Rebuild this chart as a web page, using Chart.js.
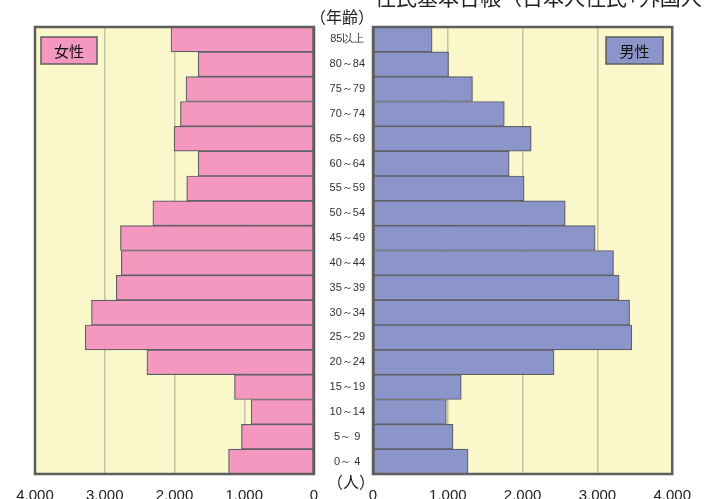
<!DOCTYPE html>
<html>
<head>
<meta charset="utf-8">
<script src="https://cdn.jsdelivr.net/npm/chart.js@4.4.0/dist/chart.umd.min.js"></script>
<style>
  body { margin: 0; background: #fff; }
  #wrap { position: relative; width: 704px; height: 499px; overflow: hidden; }
  canvas { position: absolute; top: 0; }
  .txt { position: absolute; font-family: "Noto Sans CJK JP", sans-serif; color: #222; line-height: 1; white-space: nowrap; }
</style>
</head>
<body>
<div id="wrap">
  <canvas id="femaleChart" width="320" height="499" style="left:0"></canvas>
  <canvas id="maleChart" width="390" height="499" style="left:314px"></canvas>
  <div class="txt" style="left:375px; top:-14px; font-size:21px;">住民基本台帳（日本人住民+外国人住民）</div>
  <div class="txt" style="left:310px; top:8px; font-size:16px;">（年齢）</div>
  <div class="txt" style="left:327px; top:473px; font-size:16px;">（人）</div>
</div>
<script>
// 年齢区分（上から）
const ageGroups = ['85以上', '80～84', '75～79', '70～74', '65～69', '60～64', '55～59', '50～54', '45～49',
                   '40～44', '35～39', '30～34', '25～29', '20～24', '15～19', '10～14', '5～ 9', '0～ 4'];
const femaleCounts = [2050, 1660, 1835, 1915, 2005, 1660, 1825, 2310, 2775,
                      2762, 2835, 3190, 3280, 2395, 1140, 900, 1040, 1225];
const maleCounts = [790, 1010, 1330, 1755, 2115, 1820, 2020, 2570, 2970,
                    3215, 3290, 3430, 3460, 2420, 1180, 980, 1070, 1270];
const axisTicks = [0, 1000, 2000, 3000, 4000];

const PINK = '#f598c0';
const BLUE = '#8b95ca';
const PANEL_BG = '#faf7cb';
const FRAME = '#5e5e5e';

// 背景と枠
const panelPlugin = {
    id: 'panel',
    beforeDraw(chart) {
        const a = chart.chartArea, ctx = chart.ctx;
        ctx.save();
        ctx.fillStyle = PANEL_BG;
        ctx.fillRect(a.left, a.top, a.right - a.left, a.bottom - a.top);
        ctx.restore();
    },
    afterDraw(chart, args, opts) {
        const a = chart.chartArea, ctx = chart.ctx;
        ctx.save();
        ctx.strokeStyle = FRAME;
        ctx.lineWidth = 2.5;
        ctx.strokeRect(a.left, a.top, a.right - a.left, a.bottom - a.top);
        // 凡例ボックス
        const b = opts.box;
        ctx.fillStyle = b.color;
        ctx.fillRect(b.x, b.y, b.w, b.h);
        ctx.lineWidth = 1.5;
        ctx.strokeRect(b.x, b.y, b.w, b.h);
        ctx.fillStyle = '#111';
        ctx.font = '15px "Noto Sans CJK JP"';
        ctx.textAlign = 'center';
        ctx.textBaseline = 'middle';
        ctx.fillText(b.text, b.x + b.w / 2, b.y + b.h / 2 + 1);
        ctx.restore();
    }
};

function xScale(reverse) {
    return {
        min: 0, max: 4000, reverse: reverse,
        afterBuildTicks: s => { s.ticks = axisTicks.map(v => ({ value: v })); },
        afterFit: s => { s.height = 25; },
        grid: { color: '#c6c2a6', lineWidth: 1.5, drawTicks: false },
        border: { display: false },
        ticks: {
            padding: 13,
            color: '#222',
            font: { family: 'Liberation Sans', size: 15 },
            callback: v => v.toLocaleString('en-US')
        }
    };
}

function makeChart(id, label, data, color, reverse, box, showAges) {
    const ctx = document.getElementById(id).getContext('2d');
    return new Chart(ctx, {
        type: 'bar',
        data: {
            labels: ageGroups,
            datasets: [{
                label: label,
                data: data,
                backgroundColor: color,
                borderColor: '#5f5f66',
                borderWidth: 1.2,
                borderSkipped: false,
                barPercentage: 1,
                categoryPercentage: 1
            }]
        },
        options: {
            indexAxis: 'y',
            responsive: false,
            animation: false,
            layout: { padding: reverse ? { left: 35, right: 6, top: 27 } : { left: 0, right: 31, top: 27 } },
            plugins: { legend: { display: false }, tooltip: { enabled: false }, panel: { box: box } },
            scales: {
                x: xScale(reverse),
                y: {
                    display: showAges,
                    afterFit: s => { s.width = showAges ? 59 : 0; },
                    grid: { display: false },
                    border: { display: false },
                    ticks: {
                        crossAlign: 'center',
                        padding: 0,
                        color: '#333',
                        font: { family: 'Liberation Sans', size: 11 }
                    }
                }
            }
        },
        plugins: [panelPlugin]
    });
}

makeChart('femaleChart', '女性', femaleCounts, PINK, true,
    { x: 41, y: 37, w: 56, h: 27, color: PINK, text: '女性' }, false);
makeChart('maleChart', '男性', maleCounts, BLUE, false,
    { x: 292, y: 37, w: 57, h: 27, color: BLUE, text: '男性' }, true);
</script>
</body>
</html>
